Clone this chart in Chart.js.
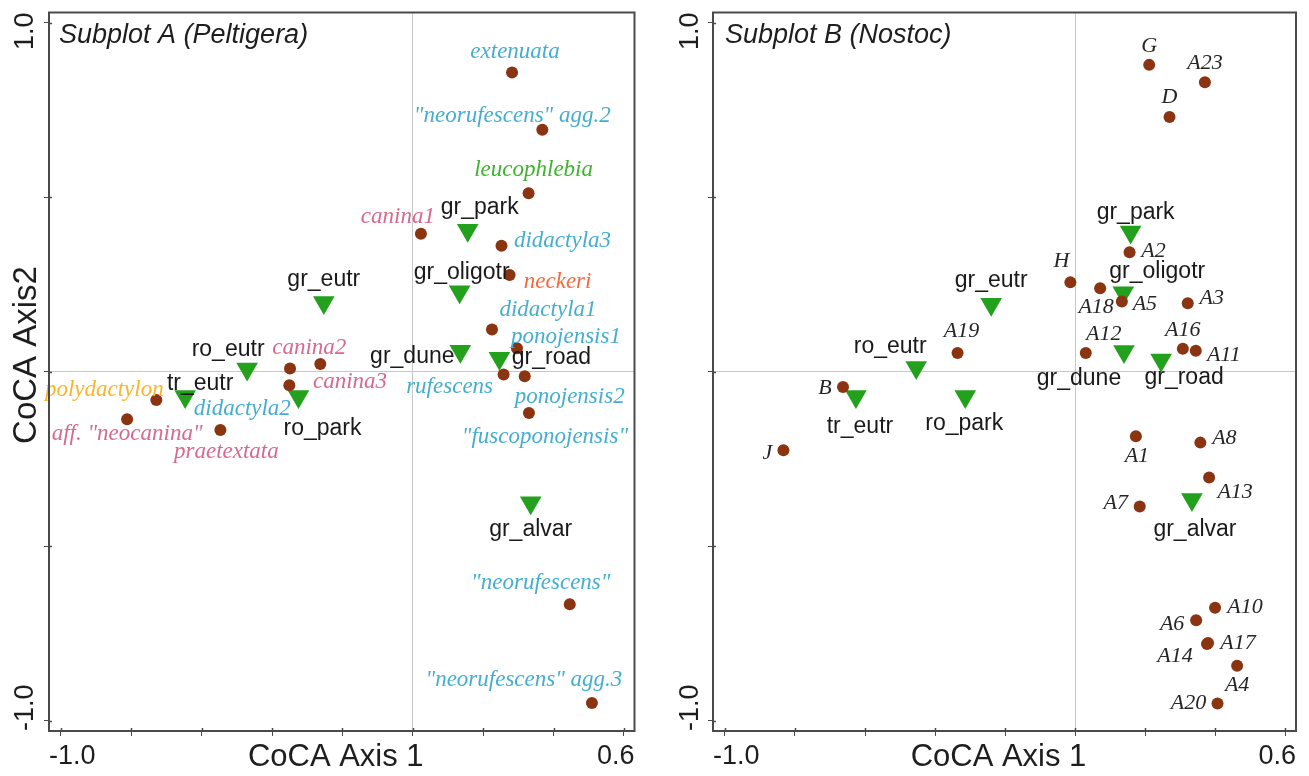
<!DOCTYPE html>
<html>
<head>
<meta charset="utf-8">
<script src="https://cdn.jsdelivr.net/npm/chart.js@4.4.1/dist/chart.umd.min.js"></script>
<style>
html, body { margin: 0; padding: 0; background: #fff; }
#wrap { position: relative; width: 1309px; height: 776px; overflow: hidden; }
canvas { position: absolute; top: 0; }
</style>
</head>
<body>
<div id="wrap">
  <canvas id="chartA" width="655" height="776" style="left:0"></canvas>
  <canvas id="chartB" width="654" height="776" style="left:655px"></canvas>
</div>
<script>
// axes
const xTicks = [-1.0, -0.8, -0.6, -0.4, -0.2, 0, 0.2, 0.4, 0.6];
const yTicks = [-1.0, -0.5, 0, 0.5, 1.0];
const xTickLabels = ['-1.0', '0.6'];
const yTickLabels = ['-1.0', '1.0'];
const xRange = [-1.034, 0.630];
const yRange = [-1.029, 1.029];

// site (environment) scores, subplot A
const siteNames = ['gr_park', 'gr_oligotr', 'gr_eutr', 'gr_dune', 'gr_road', 'ro_eutr', 'tr_eutr', 'ro_park', 'gr_alvar'];
const sitesAX = [0.156, 0.133, -0.253, 0.135, 0.246, -0.471, -0.647, -0.325, 0.335];
const sitesAY = [0.405, 0.229, 0.198, 0.059, 0.039, 0.008, -0.071, -0.071, -0.375];

// site scores, subplot B
const sitesBX = [0.158, 0.137, -0.240, 0.139, 0.245, -0.454, -0.626, -0.314, 0.333];
const sitesBY = [0.400, 0.226, 0.193, 0.058, 0.034, 0.012, -0.071, -0.071, -0.366];

// Peltigera species scores
const peltigeraNames = ['extenuata', '"neorufescens" agg.2', 'leucophlebia', 'canina1', 'didactyla3', 'neckeri',
  'didactyla1', 'ponojensis1', 'rufescens', 'ponojensis2', '"fuscoponojensis"', 'canina2', 'canina3',
  'didactyla2', 'polydactylon', 'aff. "neocanina"', 'praetextata', '"neorufescens"', '"neorufescens" agg.3'];
const peltigeraX = [0.282, 0.368, 0.329, 0.023, 0.252, 0.275, 0.225, 0.296, 0.258, 0.318, 0.330, -0.263, -0.349,
  -0.351, -0.729, -0.812, -0.547, 0.446, 0.509];
const peltigeraY = [0.857, 0.693, 0.511, 0.395, 0.361, 0.277, 0.121, 0.067, -0.008, -0.013, -0.118, 0.022, 0.009,
  -0.039, -0.081, -0.136, -0.167, -0.666, -0.949];

// Nostoc genotype scores
const nostocNames = ['G', 'A23', 'D', 'A2', 'H', 'A18', 'A5', 'A3', 'A19', 'A12', 'A16', 'A11', 'B', 'J',
  'A1', 'A8', 'A13', 'A7', 'A10', 'A6', 'A14', 'A17', 'A4', 'A20'];
const nostocX = [0.211, 0.370, 0.269, 0.155, -0.014, 0.071, 0.133, 0.321, -0.336, 0.030, 0.307, 0.344, -0.663, -0.833,
  0.173, 0.357, 0.382, 0.184, 0.399, 0.345, 0.376, 0.379, 0.462, 0.406];
const nostocY = [0.879, 0.829, 0.730, 0.342, 0.256, 0.239, 0.201, 0.196, 0.054, 0.054, 0.066, 0.060, -0.044, -0.225,
  -0.185, -0.203, -0.303, -0.386, -0.676, -0.712, -0.780, -0.777, -0.842, -0.950];

// label layout (pixel offsets from the mark) and colours
const BLUE = '#45aecf', PINK = '#d8698c', LGREEN = '#3db42c', ORANGE = '#f46a3c', YELLOW = '#f9b52a';
const peltigeraColors = [BLUE, BLUE, LGREEN, PINK, BLUE, ORANGE, BLUE, BLUE, BLUE, BLUE, BLUE, PINK, PINK,
  BLUE, YELLOW, PINK, PINK, BLUE, BLUE];
const peltigeraOffsets = [[3, -21], [-30, -14], [5, -23], [-23, -17], [61, -5], [48, 7], [56, -20], [49, -11],
  [-54, 12], [45, 21], [16, 24], [-11, -16], [60, 13], [-47, 24], [-52, -10], [0, 15], [6, 22], [-29, -21], [-68, -23]];
const nostocOffsets = [[0, -19], [0, -19], [0, -20], [24, -1], [-9, -21], [-4, 19], [23, 3], [24, -5], [4, -22],
  [18, -19], [0, -18], [28, 4], [-18, 1], [-16, 3], [1, 20], [24, -4], [26, 15], [-24, -3], [30, -1], [-24, 4],
  [-32, 12], [30, 0], [0, 20], [-29, 0]];
const siteOffsetsA = [[12, -23], [2, -19], [0, -23], [-48, 6], [52, 0], [-19, -19], [15, -13], [24, 32], [0, 27]];
const siteOffsetsB = [[5, -19], [34, -21], [0, -24], [-45, 27], [23, 18], [-26, -21], [4, 30], [-1, 27], [3, 30]];

const SANS = '"Liberation Sans", Arial, Helvetica, sans-serif';
const SERIF = '"Liberation Serif", "Times New Roman", serif';

const labelPlugin = {
  id: 'pointNames',
  afterDatasetsDraw(chart) {
    const ctx = chart.ctx;
    chart.data.datasets.forEach((ds, i) => {
      const meta = chart.getDatasetMeta(i);
      ctx.save();
      ctx.font = ds.nameFont;
      ctx.textAlign = 'center';
      ctx.textBaseline = 'middle';
      meta.data.forEach((pt, j) => {
        const off = ds.nameOffsets[j];
        ctx.fillStyle = Array.isArray(ds.nameColor) ? ds.nameColor[j] : ds.nameColor;
        ctx.fillText(ds.pointNames[j], pt.x + off[0], pt.y + off[1]);
      });
      ctx.restore();
    });
  }
};

const framePlugin = {
  id: 'frame',
  afterDraw(chart) {
    const ctx = chart.ctx;
    const a = chart.chartArea;
    const o = chart.options.plugins.frame;
    const sx = chart.scales.x, sy = chart.scales.y;
    ctx.save();
    ctx.strokeStyle = '#4a4a4a';
    ctx.lineWidth = 2;
    ctx.strokeRect(a.left, a.top, a.right - a.left, a.bottom - a.top);

    // inner half of the tick marks (they cross the axis line)
    ctx.lineWidth = 1.5;
    ctx.beginPath();
    xTicks.forEach(v => {
      const px = Math.round(sx.getPixelForValue(v)) + 0.5;
      ctx.moveTo(px, a.bottom);
      ctx.lineTo(px, a.bottom - 3);
    });
    yTicks.forEach(v => {
      const py = Math.round(sy.getPixelForValue(v)) + 0.5;
      ctx.moveTo(a.left, py);
      ctx.lineTo(a.left + 3, py);
    });
    ctx.stroke();

    ctx.fillStyle = '#1e1e1e';
    ctx.font = '27px ' + SANS;
    ctx.textBaseline = 'middle';
    ctx.textAlign = 'left';
    ctx.fillText(xTickLabels[0], a.left, 757);
    ctx.textAlign = 'right';
    ctx.fillText(xTickLabels[1], a.right, 757);

    ctx.font = '31px ' + SANS;
    ctx.textAlign = 'center';
    ctx.fillText('CoCA Axis 1', (a.left + a.right) / 2 - 6, 757);

    ctx.save();
    ctx.translate(o.yLabelX, 0);
    ctx.rotate(-Math.PI / 2);
    ctx.font = '27px ' + SANS;
    ctx.textBaseline = 'alphabetic';
    ctx.textAlign = 'left';
    ctx.fillText(yTickLabels[0], -a.bottom, 0);
    ctx.textAlign = 'right';
    ctx.fillText(yTickLabels[1], -a.top, 0);
    ctx.restore();

    if (o.yTitle) {
      ctx.save();
      ctx.translate(36, 355);
      ctx.rotate(-Math.PI / 2);
      ctx.font = '33px ' + SANS;
      ctx.textAlign = 'center';
      ctx.textBaseline = 'alphabetic';
      ctx.fillText(o.yTitle, 0, 0);
      ctx.restore();
    }

    ctx.font = 'italic 27px ' + SANS;
    ctx.textAlign = 'left';
    ctx.textBaseline = 'middle';
    ctx.fillText(o.title, a.left + o.titleInset, 35);
    ctx.restore();
  }
};

function toPoints(xs, ys) {
  return xs.map((v, i) => ({ x: v, y: ys[i] }));
}

function makeChart(id, cfg) {
  return new Chart(document.getElementById(id), {
    type: 'scatter',
    data: {
      datasets: [
        {
          data: toPoints(cfg.spX, cfg.spY),
          pointStyle: 'circle',
          pointRadius: 6,
          pointBackgroundColor: '#8a3411',
          pointBorderWidth: 0,
          pointNames: cfg.spNames,
          nameOffsets: cfg.spOffsets,
          nameColor: cfg.spColors,
          nameFont: cfg.spFont
        },
        {
          data: toPoints(cfg.siteX, cfg.siteY),
          pointStyle: 'triangle',
          pointRotation: 180,
          pointRadius: 12.5,
          pointBackgroundColor: '#23a11c',
          pointBorderWidth: 0,
          pointNames: siteNames,
          nameOffsets: cfg.siteOffsets,
          nameColor: '#1a1a1a',
          nameFont: '23px ' + SANS
        }
      ]
    },
    options: {
      responsive: false,
      animation: false,
      events: [],
      layout: { padding: { top: 10, right: cfg.padRight, left: 0, bottom: 0 } },
      plugins: {
        legend: { display: false },
        tooltip: { enabled: false },
        frame: { title: cfg.title, titleInset: cfg.titleInset, yLabelX: cfg.yLabelX, yTitle: cfg.yTitle }
      },
      scales: {
        x: {
          type: 'linear', min: xRange[0], max: xRange[1],
          afterBuildTicks: s => { s.ticks = xTicks.map(v => ({ value: v })); },
          afterFit: s => { s.height = 45; },
          ticks: { display: false },
          grid: {
            color: c => (c.tick && c.tick.value === 0 ? '#c8c8c8' : 'rgba(0,0,0,0)'),
            tickColor: '#4a4a4a', tickLength: 5, lineWidth: 1
          },
          border: { display: true, color: '#4a4a4a', width: 2 }
        },
        y: {
          type: 'linear', min: yRange[0], max: yRange[1],
          afterBuildTicks: s => { s.ticks = yTicks.map(v => ({ value: v })); },
          afterFit: s => { s.width = cfg.axisWidth; },
          ticks: { display: false },
          grid: {
            color: c => (c.tick && c.tick.value === 0 ? '#c8c8c8' : 'rgba(0,0,0,0)'),
            tickColor: '#4a4a4a', tickLength: 5, lineWidth: 1
          },
          border: { display: true, color: '#4a4a4a', width: 2 }
        }
      }
    },
    plugins: [labelPlugin, framePlugin]
  });
}

makeChart('chartA', {
  spX: peltigeraX, spY: peltigeraY, spNames: peltigeraNames, spOffsets: peltigeraOffsets,
  spColors: peltigeraColors, spFont: 'italic 23px ' + SERIF,
  siteX: sitesAX, siteY: sitesAY, siteOffsets: siteOffsetsA,
  title: 'Subplot A (Peltigera)', titleInset: 10, yLabelX: 33, yTitle: 'CoCA Axis2',
  axisWidth: 49, padRight: 20.5
});

makeChart('chartB', {
  spX: nostocX, spY: nostocY, spNames: nostocNames, spOffsets: nostocOffsets,
  spColors: '#262626', spFont: 'italic 22px ' + SERIF,
  siteX: sitesBX, siteY: sitesBY, siteOffsets: siteOffsetsB,
  title: 'Subplot B (Nostoc)', titleInset: 12, yLabelX: 43, yTitle: null,
  axisWidth: 58, padRight: 13
});
</script>
</body>
</html>
